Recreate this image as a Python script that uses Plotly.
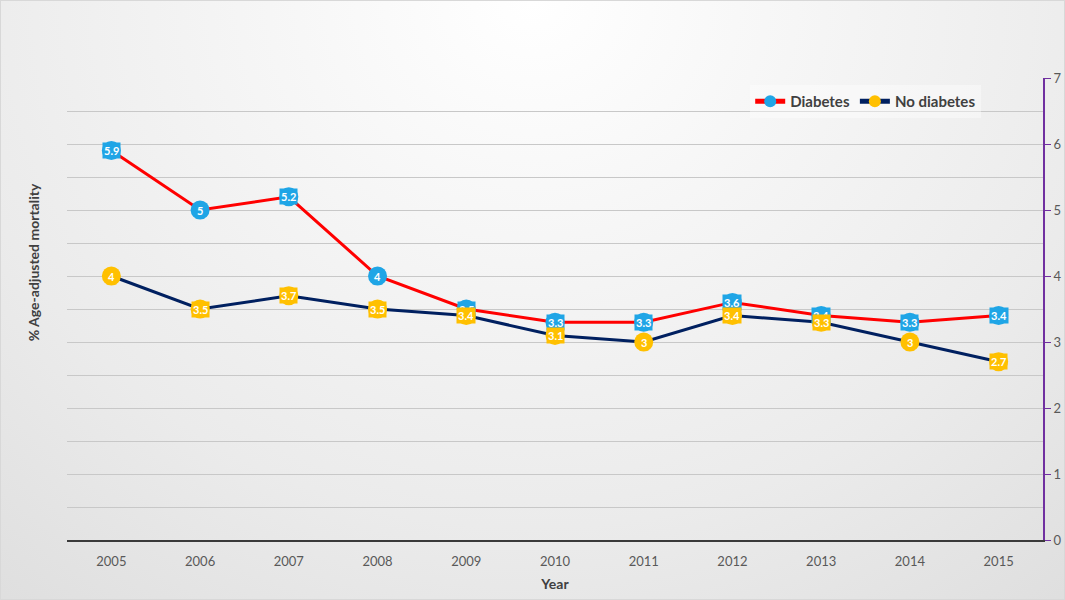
import urllib.parse
import plotly.graph_objects as go

years = [2005, 2006, 2007, 2008, 2009, 2010, 2011, 2012, 2013, 2014, 2015]
diabetes = [5.9, 5.0, 5.2, 4.0, 3.5, 3.3, 3.3, 3.6, 3.4, 3.3, 3.4]
no_diabetes = [4.0, 3.5, 3.7, 3.5, 3.4, 3.1, 3.0, 3.4, 3.3, 3.0, 2.7]
y_ticks = [0, 1, 2, 3, 4, 5, 6, 7]

FONT = "Lato, 'Open Sans', sans-serif"
W, H = 1065, 600
M = dict(l=67, r=22, t=78, b=60)
pw = W - M["l"] - M["r"]
ph = H - M["t"] - M["b"]

# soft grey radial background, like the office-style chart fill
svg = (
    '<svg xmlns="http://www.w3.org/2000/svg" width="1065" height="600" preserveAspectRatio="none">'
    '<defs><radialGradient id="g" cx="50%" cy="0%" r="110%" gradientTransform="scale(1,1.6)">'
    '<stop offset="0" stop-color="#ffffff"/><stop offset="0.5" stop-color="#ebebeb"/>'
    '<stop offset="1" stop-color="#d0d0d0"/></radialGradient></defs>'
    '<rect x="0.5" y="0.5" width="1064" height="599" fill="url(#g)" stroke="#d8d8d8"/></svg>'
)
bg_src = "data:image/svg+xml;charset=utf-8," + urllib.parse.quote(svg)

fig = go.Figure()
fig.add_trace(go.Scatter(
    x=years, y=diabetes, name="Diabetes", mode="lines+markers",
    line=dict(color="#ff0000", width=3),
    marker=dict(size=19, color="#1fa5e6", line=dict(width=0)),
))
fig.add_trace(go.Scatter(
    x=years, y=no_diabetes, name="No diabetes", mode="lines+markers",
    line=dict(color="#002060", width=3),
    marker=dict(size=19, color="#ffc000", line=dict(width=0)),
))

# data labels in filled boxes sitting on the markers
for vals, col in [(diabetes, "#1fa5e6"), (no_diabetes, "#ffc000")]:
    for x, v in zip(years, vals):
        fig.add_annotation(
            x=x, y=v, xref="x", yref="y", text="<b>%g</b>" % v, showarrow=False,
            font=dict(family=FONT, size=11, color="white"),
            bgcolor=col, borderpad=1,
        )

fig.add_annotation(
    xref="paper", yref="paper", x=-44 / pw, y=0.6, text="<b>% Age-adjusted mortality</b>",
    textangle=-90, showarrow=False, font=dict(family=FONT, size=14, color="#404040"),
)

fig.update_layout(
    width=W, height=H, margin=M,
    paper_bgcolor="#e6e6e6", plot_bgcolor="rgba(0,0,0,0)",
    font=dict(family=FONT, size=13, color="#404040"),
    images=[dict(
        source=bg_src, xref="paper", yref="paper",
        x=-M["l"] / pw, y=1 + M["t"] / ph, sizex=W / pw, sizey=H / ph,
        xanchor="left", yanchor="top", sizing="stretch", layer="below",
    )],
    legend=dict(
        orientation="h", x=0.70, y=0.985, xanchor="left", yanchor="top",
        bgcolor="rgba(255,255,255,0.4)",
        font=dict(family=FONT, size=15, color="#404040", weight="bold"),
        itemwidth=30, itemsizing="constant",
    ),
    showlegend=True,
    xaxis=dict(
        range=[2004.5, 2015.5], tickvals=years, showgrid=False, zeroline=False,
        showline=True, linecolor="#3a3a3a", linewidth=2, ticks="",
        ticklabelstandoff=8, automargin=False,
        title=dict(text="<b>Year</b>", font=dict(size=14), standoff=12),
        tickfont=dict(size=13, color="#595959"),
    ),
    yaxis=dict(
        side="right", range=[0, 7], tickvals=y_ticks, showgrid=True,
        gridcolor="#c8c8c8", gridwidth=1, zeroline=False,
        showline=True, linecolor="#7030a0", linewidth=2,
        ticks="outside", ticklen=6, tickcolor="#7030a0",
        automargin=False,
        tickfont=dict(size=13, color="#595959"),
        minor=dict(dtick=0.5, showgrid=True, gridcolor="#c8c8c8", gridwidth=1),
    ),
)

# drop the page's default body margin so the figure fills the window
fig.write_html(
    "out.html",
    config={"displayModeBar": False},
    post_script="document.body.style.margin='0';",
)
